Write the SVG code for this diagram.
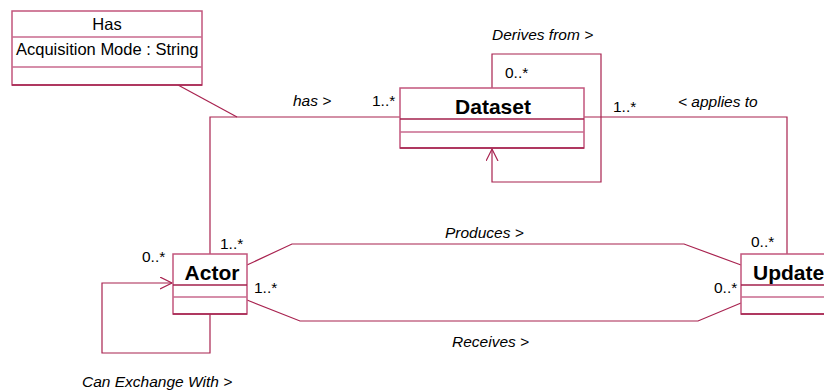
<svg xmlns="http://www.w3.org/2000/svg" width="824" height="392" viewBox="0 0 824 392">
<style>
text{font-family:"Liberation Sans",Arial,sans-serif;fill:#000}
.lbl{font-size:15.5px;font-style:italic}
.mul{font-size:15.5px}
.name{font-size:21px;font-weight:bold}
.attr{font-size:16.5px}
.box{fill:#fff;stroke:#c2557c;stroke-width:1.5}
.dk{stroke:#a3204c;stroke-width:1.7;fill:none}
.lt{stroke:#c86a8e;stroke-width:1.5;fill:none}
.conn{stroke:#a8224f;stroke-width:1.2;fill:none}
</style>
<defs>
<marker id="open" markerWidth="14" markerHeight="14" refX="12" refY="6" orient="auto" markerUnits="userSpaceOnUse">
<path d="M0,0 L12,6 L0,12" fill="none" stroke="#a8224f" stroke-width="1.2"/>
</marker>
</defs>
<g id="connectors">
<polyline class="conn" points="178,85 237,117"/>
<polyline class="conn" points="210,254 210,117 400,117"/>
<polyline class="conn" points="492,88 492,54 601,54 601,182 492,182 492,149" marker-end="url(#open)"/>
<polyline class="conn" points="584,117 787,117 787,254"/>
<polyline class="conn" points="247,265 292,244 684,244 741,265"/>
<polyline class="conn" points="247,300 300,321 698,321 741,303"/>
<polyline class="conn" points="210,314 210,353 102,353 102,283 172,283" marker-end="url(#open)"/>
</g>
<g id="node-has">
<rect class="box" x="12" y="11" width="190" height="74"/>
<line class="lt" x1="12" y1="37" x2="202" y2="37"/>
<line class="lt" x1="12" y1="67" x2="202" y2="67"/>
<line class="dk" x1="12" y1="85" x2="202" y2="85"/>
<text x="107" y="30" text-anchor="middle" class="attr">Has</text>
<text x="16" y="55" class="attr">Acquisition Mode : String</text>
</g>
<g id="node-dataset">
<rect class="box" x="400" y="88" width="184" height="60"/>
<line class="dk" x1="400" y1="119" x2="584" y2="119"/>
<line class="lt" x1="400" y1="132" x2="584" y2="132"/>
<line class="dk" x1="400" y1="148" x2="584" y2="148"/>
<text x="493" y="114" text-anchor="middle" class="name">Dataset</text>
</g>
<g id="node-actor">
<rect class="box" x="173" y="254" width="74" height="60"/>
<line class="dk" x1="173" y1="285" x2="247" y2="285"/>
<line class="lt" x1="173" y1="297" x2="247" y2="297"/>
<line class="dk" x1="173" y1="314" x2="247" y2="314"/>
<text x="212" y="280" text-anchor="middle" class="name">Actor</text>
</g>
<g id="node-update">
<rect class="box" x="741" y="254" width="90" height="60"/>
<line class="dk" x1="741" y1="285" x2="831" y2="285"/>
<line class="lt" x1="741" y1="297" x2="831" y2="297"/>
<line class="dk" x1="741" y1="314" x2="831" y2="314"/>
<text x="753" y="280" class="name">Update</text>
</g>
<g id="labels">
<text x="492" y="40" class="lbl">Derives from &gt;</text>
<text x="505" y="78" class="mul">0..*</text>
<text x="293" y="106" class="lbl">has &gt;</text>
<text x="372" y="106" class="mul">1..*</text>
<text x="613" y="112" class="mul">1..*</text>
<text x="678" y="107" class="lbl">&lt; applies to</text>
<text x="445" y="238" class="lbl">Produces &gt;</text>
<text x="220" y="249" class="mul">1..*</text>
<text x="142" y="262" class="mul">0..*</text>
<text x="254" y="293" class="mul">1..*</text>
<text x="751" y="247" class="mul">0..*</text>
<text x="714" y="293" class="mul">0..*</text>
<text x="452" y="347" class="lbl">Receives &gt;</text>
<text x="82" y="387" class="lbl">Can Exchange With &gt;</text>
</g>
</svg>
